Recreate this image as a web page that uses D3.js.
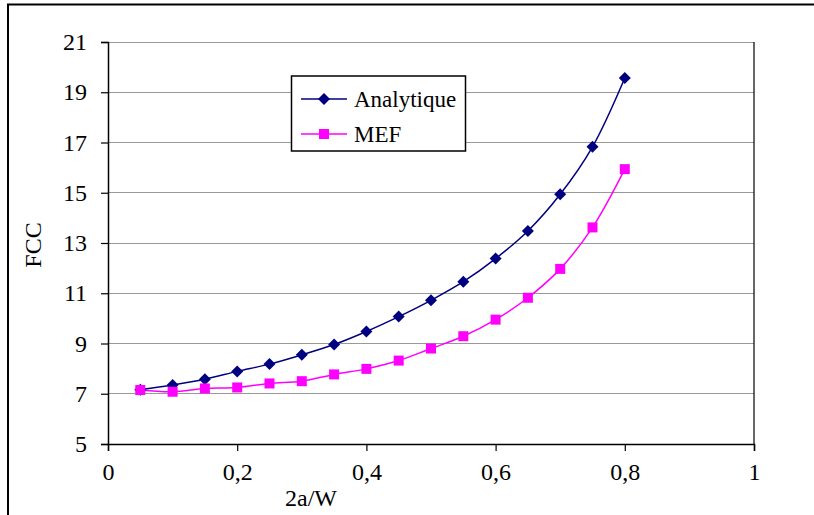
<!DOCTYPE html>
<html><head><meta charset="utf-8">
<script src="https://cdn.jsdelivr.net/npm/d3@7"></script>
<style>
html,body{margin:0;padding:0;background:#fff;}
svg{display:block;font-family:"Liberation Serif","Times New Roman",serif;}
</style></head>
<body>
<svg id="chart" width="814" height="515"></svg>
<script>
const xValues = [0.05,0.10,0.15,0.20,0.25,0.30,0.35,0.40,0.45,0.50,0.55,0.60,0.65,0.70,0.75,0.80];
const analytique = [7.16,7.35,7.58,7.89,8.18,8.55,8.96,9.48,10.07,10.72,11.46,12.38,13.48,14.94,16.83,19.57];
const mef = [7.15,7.08,7.21,7.25,7.41,7.50,7.77,7.99,8.32,8.80,9.29,9.95,10.82,11.97,13.62,15.94];
const xTicks = [0,0.2,0.4,0.6,0.8,1];
const yTicks = [5,7,9,11,13,15,17,19,21];
const seriesNames = ["Analytique","MEF"];
const xTitle = "2a/W";
const yTitle = "FCC";

const svg = d3.select("#chart");
const L = 108, R = 754, T = 42, B = 444;
const x = d3.scaleLinear().domain([0,1]).range([L,R]);
const y = d3.scaleLinear().domain([5,21]).range([B,T]);
const fmt = d => String(d).replace(".", ",");

// outer border
svg.append("rect").attr("x",8).attr("y",4.5).attr("width",830).attr("height",530)
  .attr("fill","none").attr("stroke","#000").attr("stroke-width",2);

// gridlines
svg.append("g").selectAll("line").data(yTicks.filter(d=>d>5)).join("line")
  .attr("x1",L).attr("x2",R).attr("y1",d=>y(d)).attr("y2",d=>y(d))
  .attr("stroke","#999").attr("stroke-width",1).attr("shape-rendering","crispEdges");
// right border
svg.append("line").attr("x1",R).attr("x2",R).attr("y1",T).attr("y2",B)
  .attr("stroke","#000").attr("stroke-width",1.2);

// axes
const yAxis = svg.append("g").attr("transform",`translate(${L},0)`)
  .call(d3.axisLeft(y).tickValues(yTicks).tickSize(7).tickPadding(14).tickFormat(d=>d));
const xAxis = svg.append("g").attr("transform",`translate(0,${B})`)
  .call(d3.axisBottom(x).tickValues(xTicks).tickSize(7).tickPadding(12).tickFormat(fmt));
[yAxis,xAxis].forEach(g=>{
  g.select(".domain").attr("stroke","#000").attr("stroke-width",1.5);
  g.selectAll(".tick line").attr("stroke","#000").attr("stroke-width",1.2);
  g.selectAll("text").attr("font-family","Liberation Serif, serif").attr("font-size",24).attr("fill","#000");
});

// titles
svg.append("text").attr("x",311).attr("y",506).attr("text-anchor","middle")
  .attr("font-size",24).text(xTitle);
svg.append("text").attr("transform","translate(41,245) rotate(-90)").attr("text-anchor","middle")
  .attr("font-size",24).text(yTitle);

const line = d3.line().x(d=>x(d[0])).y(d=>y(d[1])).curve(d3.curveCatmullRom.alpha(0.5));
const dA = xValues.map((v,i)=>[v,analytique[i]]);
const dM = xValues.map((v,i)=>[v,mef[i]]);
const cA = "#000080", cM = "#ff00ff";

svg.append("path").datum(dA).attr("d",line).attr("fill","none").attr("stroke",cA).attr("stroke-width",1.5);
svg.append("path").datum(dM).attr("d",line).attr("fill","none").attr("stroke",cM).attr("stroke-width",1.5);

function drawDiamond(g,cx,cy,s){
  g.append("path").attr("d",`M${cx},${cy-s}L${cx+s},${cy}L${cx},${cy+s}L${cx-s},${cy}Z`).attr("fill",cA);
}
const gA = svg.append("g");
dA.forEach(d=>drawDiamond(gA,x(d[0]),y(d[1]),6));
svg.append("g").selectAll("rect").data(dM).join("rect")
  .attr("x",d=>x(d[0])-5).attr("y",d=>y(d[1])-5).attr("width",10).attr("height",10).attr("fill",cM);

// legend
const lg = svg.append("g");
lg.append("rect").attr("x",291.5).attr("y",76).attr("width",174).attr("height",75)
  .attr("fill","#fff").attr("stroke","#000").attr("stroke-width",1.5);
const rows = [{n:seriesNames[0],c:cA,y:99},{n:seriesNames[1],c:cM,y:134}];
rows.forEach((r,i)=>{
  lg.append("line").attr("x1",301).attr("x2",347).attr("y1",r.y).attr("y2",r.y).attr("stroke",r.c).attr("stroke-width",1.5);
  if(i===0) drawDiamond(lg,324,r.y,6);
  else lg.append("rect").attr("x",319).attr("y",r.y-5).attr("width",10).attr("height",10).attr("fill",cM);
  lg.append("text").attr("x",354).attr("y",r.y+8).attr("font-size",23).text(r.n);
});
</script>
</body></html>
